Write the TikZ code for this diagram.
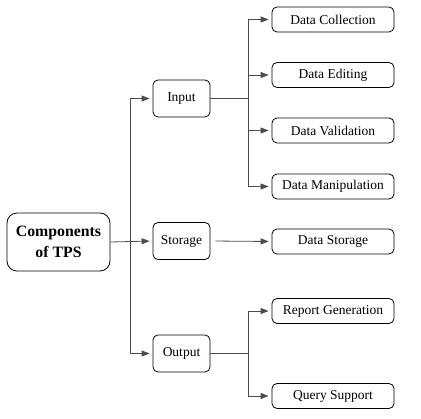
\documentclass[tikz,border=0pt]{standalone}
\usepackage{fontspec}
\setmainfont{Liberation Serif}
\newfontfamily\tpsfont{Liberation Serif}
\usetikzlibrary{arrows.meta}
\begin{document}
\begin{tikzpicture}[x=1pt,y=-1pt,
  box/.style={draw=black,line width=0.8pt,rounded corners=5pt,inner sep=0pt,font=\tpsfont\fontsize{13.5}{15}\selectfont},
  mid/.style={box,minimum width=57pt,minimum height=37pt},
  leaf/.style={box,minimum width=122pt,minimum height=25pt},
  main/.style={box,rounded corners=10pt,minimum width=103pt,minimum height=58pt,align=center,font=\tpsfont\fontsize{15.8}{21}\selectfont\bfseries},
  conn/.style={draw=black!70,line width=0.8pt},
  arr/.style={conn,-{Triangle[length=8pt,width=6pt]},shorten >=3pt}
]
\useasboundingbox (0,0) rectangle (421,419);
\node[main] (tps) at (58.5,242) {Components\\of TPS};
\node[mid] (in) at (181.5,98.5) {Input};
\node[mid] (st) at (181.5,241) {Storage};
\node[mid] (out) at (181.5,353.5) {Output};
\node[leaf] (dc) at (333,19.5) {Data Collection};
\node[leaf] (de) at (333,75) {Data Editing};
\node[leaf] (dv) at (333,130.5) {Data Validation};
\node[leaf] (dm) at (333,186.5) {Data Manipulation};
\node[leaf] (ds) at (333,241.5) {Data Storage};
\node[leaf] (rg) at (333,311) {Report Generation};
\node[leaf] (qs) at (333,396) {Query Support};
\coordinate (trunk) at (130,0);
\coordinate (bi) at (248,0);
\draw[arr] (tps.east) -- (st.west);
\draw[arr] (trunk |- st.center) |- (in.west);
\draw[arr] (trunk |- st.center) |- (out.west);
\draw[conn] (in.east) -- (bi |- in.east);
\foreach \c in {dc,de,dv,dm}{\draw[arr] (bi |- in.east) |- (\c.west);}
\draw[conn] (out.east) -- (bi |- out.east);
\foreach \c in {rg,qs}{\draw[arr] (bi |- out.east) |- (\c.west);}
\draw[arr,shorten <=5pt] (st.east) -- (ds.west);
\end{tikzpicture}
\end{document}
